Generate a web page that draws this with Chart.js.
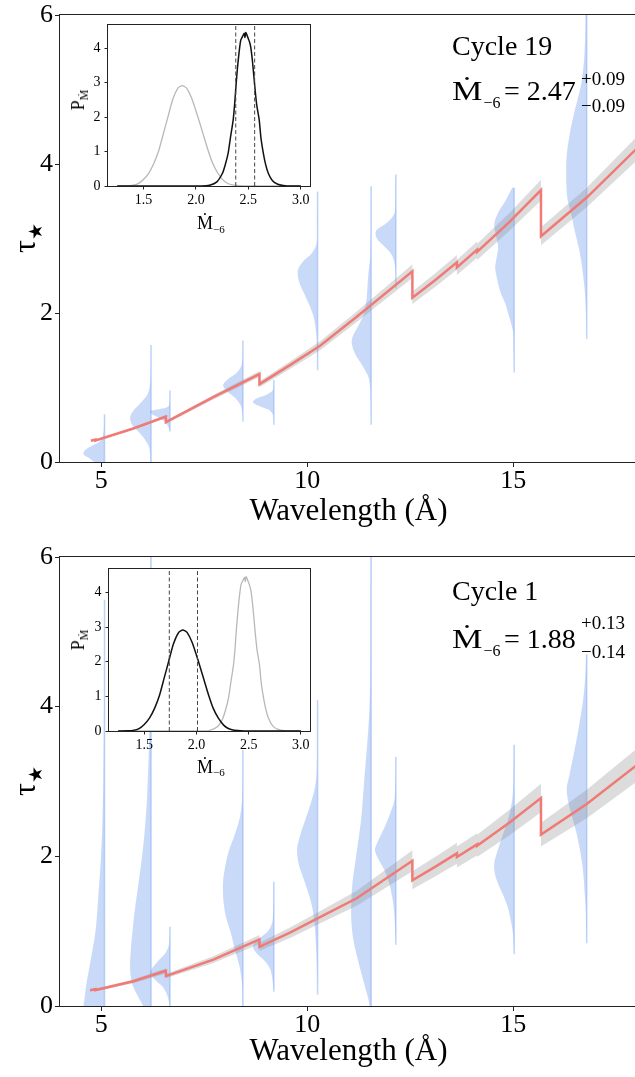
<!DOCTYPE html>
<html>
<head>
<meta charset="utf-8">
<script src="https://cdn.jsdelivr.net/npm/chart.js@4.4.1/dist/chart.umd.min.js"></script>
<style>
body { margin: 0; width: 635px; height: 1077px; overflow: hidden; background: #fff; position: relative;
       font-family: "Liberation Serif", "DejaVu Serif", serif; }
canvas { position: absolute; }
.txt { position: absolute; white-space: nowrap; color: #000; line-height: 1; transform-origin: left center; }
.rot { position: absolute; white-space: nowrap; color: #000; line-height: 1; transform: translate(-50%, -50%) rotate(-90deg); }
</style>
</head>
<body>
<canvas id="main19" width="637" height="540" style="left:0;top:0"></canvas>
<canvas id="main1" width="637" height="537" style="left:0;top:540px"></canvas>
<canvas id="inset19" width="260" height="230" style="left:60px;top:14px"></canvas>
<canvas id="inset1" width="260" height="230" style="left:60px;top:557px"></canvas>

<script>
// model tau(lambda), cycle 19 (top) and cycle 1 (bottom); repeated x = absorption edge
const lam19 = [4.75, 4.86, 4.86, 5.78, 6.57, 6.57, 7.72, 8.84, 8.84, 9.58, 10.31, 11.2, 12.55, 12.55, 13.1, 13.63, 13.63, 14.12, 14.12, 14.9, 15.67, 15.67, 16.78, 18.0];
const tau19 = [0.285, 0.30, 0.288, 0.45, 0.61, 0.535, 0.87, 1.18, 1.045, 1.30, 1.56, 1.95, 2.56, 2.205, 2.44, 2.68, 2.61, 2.85, 2.82, 3.22, 3.65, 3.03, 3.55, 4.21];
const tauLo19 = [0.275, 0.29, 0.278, 0.435, 0.59, 0.515, 0.84, 1.14, 1.005, 1.25, 1.50, 1.88, 2.47, 2.12, 2.35, 2.58, 2.51, 2.74, 2.71, 3.10, 3.51, 2.91, 3.42, 4.05];
const tauHi19 = [0.295, 0.31, 0.298, 0.465, 0.63, 0.555, 0.90, 1.22, 1.085, 1.35, 1.62, 2.02, 2.65, 2.29, 2.53, 2.78, 2.71, 2.96, 2.93, 3.34, 3.79, 3.15, 3.68, 4.37];

const lam1 = [4.73, 4.86, 4.86, 5.78, 6.57, 6.57, 7.72, 8.84, 8.84, 9.58, 10.25, 11.2, 12.55, 12.55, 13.1, 13.63, 13.63, 14.12, 14.12, 14.9, 15.67, 15.67, 16.78, 18.0];
const tau1 = [0.21, 0.225, 0.213, 0.33, 0.47, 0.40, 0.62, 0.89, 0.79, 0.98, 1.17, 1.44, 1.94, 1.68, 1.86, 2.04, 1.99, 2.16, 2.14, 2.45, 2.78, 2.29, 2.70, 3.22];
const tauLo1 = [0.195, 0.21, 0.198, 0.305, 0.435, 0.37, 0.575, 0.83, 0.735, 0.91, 1.09, 1.34, 1.80, 1.56, 1.73, 1.90, 1.85, 2.01, 1.99, 2.28, 2.59, 2.13, 2.51, 3.0];
const tauHi1 = [0.225, 0.24, 0.228, 0.355, 0.505, 0.43, 0.665, 0.95, 0.845, 1.05, 1.25, 1.54, 2.08, 1.80, 1.99, 2.18, 2.13, 2.31, 2.29, 2.62, 2.97, 2.45, 2.89, 3.44];

// per-line tau posteriors (half violins): position, tau samples (top -> bottom), density
const vLam19 = [5.08, 6.21, 6.67, 8.44, 9.19, 10.25, 11.55, 12.15, 15.02, 16.78];
const vTau19 = [
  [0.64, 0.5, 0.4, 0.3, 0.25, 0.2, 0.15, 0.1, 0.05, 0.0, -0.05],
  [1.57, 1.2, 1.0, 0.9, 0.8, 0.7, 0.6, 0.5, 0.4, 0.3, 0.2, 0.1, 0.0],
  [0.96, 0.8, 0.74, 0.71, 0.68, 0.64, 0.6, 0.55, 0.5, 0.45, 0.41],
  [1.63, 1.4, 1.3, 1.2, 1.1, 1.03, 0.95, 0.85, 0.75, 0.65, 0.54],
  [1.10, 1.0, 0.95, 0.9, 0.85, 0.8, 0.75, 0.7, 0.65, 0.6, 0.5],
  [3.63, 3.2, 2.93, 2.8, 2.7, 2.6, 2.53, 2.4, 2.25, 2.1, 1.95, 1.8, 1.68, 1.45, 1.23],
  [3.70, 3.2, 2.75, 2.5, 2.2, 2.0, 1.85, 1.7, 1.6, 1.45, 1.3, 1.15, 1.0, 0.75, 0.5],
  [3.86, 3.6, 3.37, 3.3, 3.2, 3.1, 3.0, 2.9, 2.8, 2.7, 2.57, 2.33],
  [3.68, 3.5, 3.35, 3.19, 3.03, 2.88, 2.75, 2.61, 2.45, 2.29, 2.13, 1.98, 1.76, 1.5, 1.2],
  [6.2, 5.55, 5.11, 4.66, 4.4, 4.12, 3.85, 3.55, 3.3, 3.10, 2.85, 2.65, 2.3, 2.0, 1.65]
];
const vDens19 = [
  [0.3, 0.5, 1, 3, 8, 15, 20, 21, 15, 10, 3],
  [0.3, 0.5, 1.5, 4, 10, 17, 21, 19, 12, 6, 2, 1, 0.5],
  [0.3, 0.5, 2, 10, 20, 18, 12, 6, 3, 1, 0],
  [0.3, 0.5, 1.5, 6, 16, 20, 16, 7, 2, 0.5, 0],
  [0.3, 0.5, 2, 8, 18, 21, 14, 5, 1.5, 0.5, 0],
  [0.3, 0.5, 1, 6, 14, 19, 20, 18, 13, 8, 4, 2, 1, 0.5, 0],
  [0.3, 0.4, 1, 3, 4.5, 7, 12, 18, 19.5, 16, 9, 3, 1, 0.5, 0],
  [0.3, 0.5, 1, 3, 10, 20, 19, 12, 5, 2, 0.5, 0],
  [2, 9, 16, 20, 18, 16, 17.5, 19, 17, 14, 9, 5.7, 1.3, 0.5, 0],
  [1, 2, 5, 13, 17, 20, 20.5, 19.5, 15, 12, 7.5, 5, 2, 0.7, 0]
];

const vLam1 = [5.08, 6.21, 6.67, 8.44, 9.19, 10.25, 11.55, 12.15, 15.02, 16.78];
const vTau1 = [
  [5.43, 4.0, 3.0, 2.5, 2.0, 1.5, 1.0, 0.6, 0.3, 0.1, 0.0, -0.1],
  [6.2, 5.0, 4.0, 3.3, 2.8, 2.4, 2.0, 1.6, 1.2, 0.8, 0.5, 0.3, 0.15, 0.0, -0.1],
  [1.06, 0.9, 0.8, 0.7, 0.6, 0.5, 0.44, 0.35, 0.25, 0.15, 0.05, 0.0, -0.1],
  [3.42, 3.0, 2.75, 2.53, 2.3, 2.08, 1.85, 1.64, 1.4, 1.19, 0.97, 0.75, 0.53, 0.3, 0.1, -0.1],
  [1.66, 1.4, 1.2, 1.1, 1.0, 0.9, 0.8, 0.7, 0.6, 0.5, 0.4, 0.3, 0.19],
  [4.09, 3.5, 3.1, 2.9, 2.7, 2.5, 2.3, 2.1, 1.9, 1.7, 1.5, 1.3, 1.1, 0.9, 0.7, 0.4, 0.15],
  [6.2, 5.0, 4.3, 3.9, 3.5, 3.0, 2.5, 2.0, 1.6, 1.2, 0.9, 0.6, 0.3, 0.1, 0.0, -0.1],
  [3.33, 3.0, 2.75, 2.6, 2.4, 2.2, 2.08, 1.95, 1.8, 1.6, 1.4, 1.2, 1.0, 0.82],
  [3.49, 3.0, 2.75, 2.5, 2.3, 2.1, 1.9, 1.75, 1.6, 1.45, 1.3, 1.15, 1.0, 0.85, 0.69],
  [4.7, 4.4, 4.1, 3.8, 3.5, 3.3, 3.1, 2.9, 2.7, 2.5, 2.3, 2.1, 1.9, 1.7, 1.5, 1.3, 1.0, 0.84]
];
const vDens1 = [
  [0.3, 0.5, 1.2, 2, 3.5, 6, 9, 14, 18, 20, 21, 21],
  [0.5, 0.7, 1.2, 2.5, 4, 6, 9, 13, 17, 20, 21, 19, 14, 8, 5],
  [0.3, 0.5, 1.5, 5, 12, 18, 20, 15, 7, 3, 1, 0.5, 0.3],
  [0.3, 0.5, 1, 3, 8, 14, 18, 20, 19.5, 17, 12, 8, 3.5, 1, 0.5, 0.3],
  [0.3, 0.5, 1, 2, 6, 15, 21, 17, 9, 4, 2, 1, 0],
  [0.3, 0.5, 1, 3, 7, 12, 17, 20.5, 19, 14, 9, 5, 3, 2, 1.2, 0.5, 0],
  [0.5, 0.7, 1, 2, 4, 7, 10, 15, 19, 20, 18, 13, 7, 3, 1.5, 1],
  [0.3, 0.5, 1.5, 5, 11, 18, 21, 17, 11, 6, 3, 1.5, 0.7, 0],
  [0.3, 0.8, 2, 6, 11, 16, 20, 19, 15, 10, 6, 3.5, 1.5, 0.7, 0],
  [0.5, 1.5, 3.5, 7, 11, 14, 17, 20, 18, 14, 10, 7, 4.5, 3, 2, 1, 0.5, 0]
];

// Mdot posteriors for the insets
const postX19 = [1.25, 2.05, 2.13, 2.20, 2.253, 2.28, 2.307, 2.33, 2.355, 2.37, 2.381, 2.40, 2.426, 2.445, 2.46, 2.468, 2.475, 2.485, 2.50, 2.51, 2.522, 2.54, 2.562, 2.58, 2.604, 2.62, 2.643, 2.665, 2.69, 2.73, 2.78, 2.866, 3.0];
const postY19 = [0, 0, 0.02, 0.12, 0.37, 0.62, 0.95, 1.42, 1.91, 2.40, 2.87, 3.55, 4.22, 4.35, 4.44, 4.32, 4.46, 4.40, 4.28, 4.20, 4.05, 3.60, 2.87, 2.35, 1.91, 1.40, 0.95, 0.62, 0.37, 0.15, 0.05, 0.0, 0];
const postX1 = [1.25, 1.35, 1.39, 1.45, 1.50, 1.55, 1.60, 1.647, 1.69, 1.733, 1.78, 1.83, 1.87, 1.91, 1.96, 2.02, 2.07, 2.116, 2.16, 2.21, 2.26, 2.30, 2.35, 2.42, 2.5, 3.0];
const postY1 = [0, 0.005, 0.015, 0.07, 0.19, 0.37, 0.66, 1.04, 1.52, 2.0, 2.52, 2.85, 2.92, 2.85, 2.55, 2.0, 1.50, 1.04, 0.66, 0.37, 0.17, 0.08, 0.03, 0.01, 0, 0];
const ci19 = [2.38, 2.56];
const ci1 = [1.74, 2.01];

const xTicks = [5, 10, 15];
const yTicks = [0, 2, 4, 6];
const insetXTicks = [1.5, 2.0, 2.5, 3.0];
const insetYTicks = [0, 1, 2, 3, 4];

// styles
const SERIF = "'Liberation Serif', 'DejaVu Serif', serif";
const VIOLIN_FILL = 'rgba(100,149,237,0.35)';
const VIOLIN_W = 1 / 41.2;   // wavelength units per density unit
const AXIS = '#222';

const framePlugin = {
  id: 'frame',
  beforeDraw(chart, args, opts) {
    if (!opts.fill) return;
    const a = chart.chartArea, ctx = chart.ctx;
    ctx.save();
    ctx.fillStyle = opts.fill;
    ctx.fillRect(a.left, a.top, a.right - a.left, a.bottom - a.top);
    ctx.restore();
  },
  afterDraw(chart) {
    const a = chart.chartArea, ctx = chart.ctx;
    ctx.save();
    ctx.strokeStyle = AXIS;
    ctx.lineWidth = 1;
    const l = Math.round(a.left) - 0.5, t = Math.round(a.top) - 0.5;
    ctx.strokeRect(l, t, Math.round(a.right) - Math.round(a.left) + 1, Math.round(a.bottom) - Math.round(a.top) + 1);
    ctx.restore();
  }
};

function pts(xs, ys) { return xs.map((x, i) => ({ x: x, y: ys[i] })); }

function mainDatasets(lam, tau, lo, hi, vLam, vTau, vDens) {
  const sets = [];
  sets.push({ data: pts(lam, tau), borderColor: '#f07a76', borderWidth: 2.5, pointRadius: 0, tension: 0, fill: false, order: 1 });
  const band = pts(lam, lo).concat(pts(lam, hi).reverse());
  sets.push({ data: band, borderWidth: 0, borderColor: 'transparent', backgroundColor: 'rgba(140,140,140,0.3)',
              fill: 'shape', pointRadius: 0, tension: 0, order: 2 });
  vLam.forEach((l0, k) => {
    const taus = vTau[k], dens = vDens[k];
    const left = taus.map((t, i) => ({ x: l0 - dens[i] * VIOLIN_W, y: t }));
    const right = taus.map(t => ({ x: l0, y: t })).reverse();
    sets.push({ data: left.concat(right), borderWidth: 0, borderColor: 'transparent', backgroundColor: VIOLIN_FILL,
                fill: 'shape', pointRadius: 0, tension: 0.3, order: 3 });
    sets.push({ data: [{ x: l0, y: taus[taus.length - 1] }, { x: l0, y: taus[0] }], borderColor: VIOLIN_FILL,
                borderWidth: 1.6, pointRadius: 0, fill: false, order: 3 });
  });
  return sets;
}

function makeMain(id, datasets, padTop, axisH, titlePad) {
  return new Chart(document.getElementById(id), {
    type: 'line',
    data: { datasets: datasets },
    options: {
      responsive: false, animation: false, events: [], devicePixelRatio: 1,
      layout: { padding: { top: padTop, left: 0, right: 0, bottom: 0 } },
      plugins: { legend: { display: false }, tooltip: { enabled: false }, frame: {} },
      scales: {
        x: {
          type: 'linear', min: 4, max: 18,
          afterFit: s => { s.height = axisH; },
          afterBuildTicks: s => { s.ticks = xTicks.map(v => ({ value: v })); },
          grid: { drawOnChartArea: false, tickLength: 5, color: AXIS },
          border: { display: false },
          ticks: { font: { family: SERIF, size: 26, lineHeight: 1 }, color: '#000', padding: 1, maxRotation: 0 },
          title: { display: true, text: 'Wavelength (Å)', color: '#000',
                   font: { family: SERIF, size: 31, lineHeight: 1 }, padding: { top: 0, bottom: titlePad } }
        },
        y: {
          min: 0, max: 6,
          afterFit: s => { s.width = 60; },
          afterBuildTicks: s => { s.ticks = yTicks.map(v => ({ value: v })); },
          grid: { drawOnChartArea: false, tickLength: 5, color: AXIS },
          border: { display: false },
          ticks: { font: { family: SERIF, size: 26, lineHeight: 1 }, color: '#000', padding: 2 }
        }
      }
    },
    plugins: [framePlugin]
  });
}

function makeInset(id, front, back, ci, pad) {
  const dash = x => ({ data: [{ x: x, y: 0 }, { x: x, y: 4.68 }], borderColor: '#444', borderWidth: 1,
                       borderDash: [4, 2.5], pointRadius: 0, fill: false, order: 0 });
  return new Chart(document.getElementById(id), {
    type: 'line',
    data: {
      datasets: [
        dash(ci[0]), dash(ci[1]),
        { data: front, borderColor: '#111', borderWidth: 1.5, pointRadius: 0, tension: 0.2, fill: false, order: 1 },
        { data: back, borderColor: '#b8b8b8', borderWidth: 1.3, pointRadius: 0, tension: 0.2, fill: false, order: 2 }
      ]
    },
    options: {
      responsive: false, animation: false, events: [], devicePixelRatio: 1,
      layout: { padding: { top: pad.top, left: 0, right: 10, bottom: 0 } },
      plugins: { legend: { display: false }, tooltip: { enabled: false }, frame: { fill: '#fff' } },
      scales: {
        x: {
          type: 'linear', min: 1.1625, max: 3.0875,
          afterFit: s => { s.height = pad.xh; },
          afterBuildTicks: s => { s.ticks = insetXTicks.map(v => ({ value: v })); },
          grid: { drawOnChartArea: false, tickLength: 3.5, color: AXIS },
          border: { display: false },
          ticks: { font: { family: SERIF, size: 14, lineHeight: 1 }, color: '#000', padding: 3.5, maxRotation: 0,
                   callback: v => v.toFixed(1) }
        },
        y: {
          min: 0, max: 4.68,
          afterFit: s => { s.width = pad.yw; },
          afterBuildTicks: s => { s.ticks = insetYTicks.map(v => ({ value: v })); },
          grid: { drawOnChartArea: false, tickLength: 3.5, color: AXIS },
          border: { display: false },
          ticks: { font: { family: SERIF, size: 14, lineHeight: 1 }, color: '#000', padding: 4 }
        }
      }
    },
    plugins: [framePlugin]
  });
}

makeMain('main19', mainDatasets(lam19, tau19, tauLo19, tauHi19, vLam19, vTau19, vDens19), 14, 78, 13);
makeMain('main1', mainDatasets(lam1, tau1, tauLo1, tauHi1, vLam1, vTau1, vDens1), 17, 71, 10);
makeInset('inset19', pts(postX19, postY19), pts(postX1, postY1), ci19, { top: 10, xh: 58, yw: 48 });
makeInset('inset1', pts(postX1, postY1), pts(postX19, postY19), ci1, { top: 12, xh: 56, yw: 49 });

// text labels, placed by baseline
function addText(html, x, baseline, size, stretch) {
  const d = document.createElement('div');
  d.className = 'txt';
  d.style.fontSize = size + 'px';
  d.style.left = x + 'px';
  d.style.top = (baseline - 0.8375 * size) + 'px';
  if (stretch) d.style.transform = 'scaleX(' + stretch + ')';
  d.innerHTML = html;
  document.body.appendChild(d);
}
function addRotated(html, cx, cy, size) {
  const d = document.createElement('div');
  d.className = 'rot';
  d.style.fontSize = size + 'px';
  d.style.left = cx + 'px';
  d.style.top = cy + 'px';
  d.innerHTML = html;
  document.body.appendChild(d);
}

const panels = [
  { cycle: 'Cycle 19', val: '= 2.47', up: '+0.09', dn: '−0.09', b1: 55, b2: 100, bu: 85, bd: 112, ly: 238, insetY: 100, mb: 229.5 },
  { cycle: 'Cycle 1', val: '= 1.88', up: '+0.13', dn: '−0.14', b1: 600, b2: 648, bu: 629, bd: 658, ly: 781, insetY: 640, mb: 773 }
];
panels.forEach(p => {
  addText(p.cycle, 452, p.b1, 28);
  addText('Ṁ', 452, p.b2, 28, 1.22);
  addText('−6', 483.5, p.b2 + 8, 16);
  addText(p.val, 504, p.b2, 28);
  addText(p.up, 581, p.bu, 19);
  addText(p.dn, 581, p.bd, 19);
  addRotated('τ<span style="font-size:19px;position:relative;top:7px">★</span>', 24, p.ly, 32);
  addRotated('P<span style="font-size:12px;position:relative;top:4px">Ṁ</span>', 78, p.insetY, 18);
  addText('Ṁ', 197, p.mb, 18);
  addText('−6', 213, p.mb + 3.5, 11);
});
</script>
</body>
</html>
